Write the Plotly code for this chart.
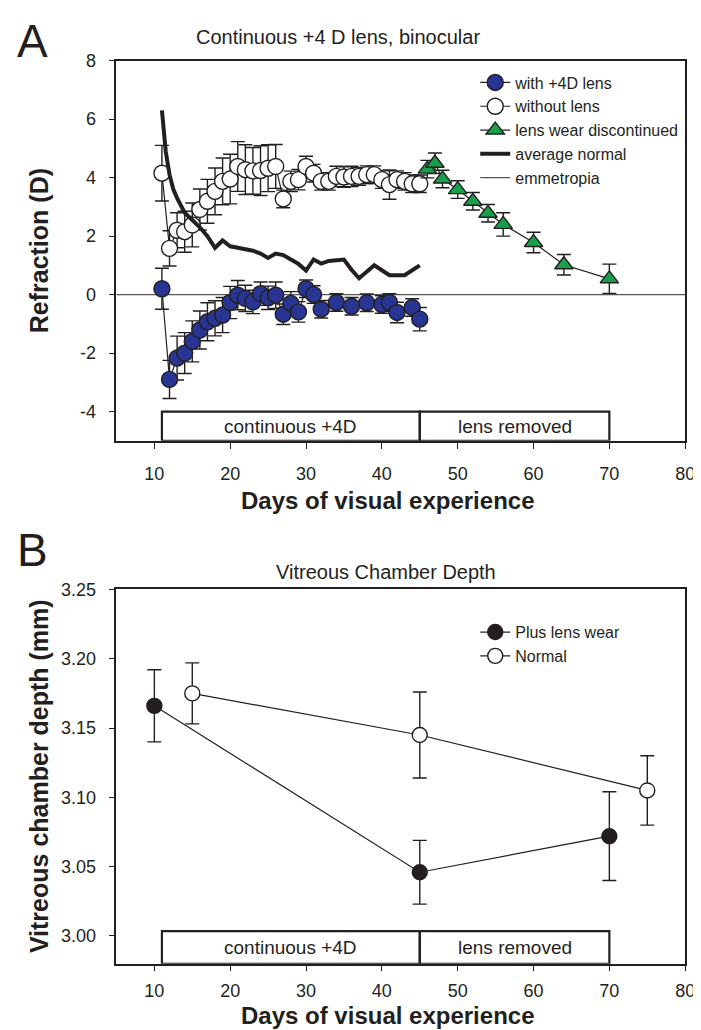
import plotly.graph_objects as go

# ---------------- Panel A data ----------------
lens_days = [11, 12, 13, 14, 15, 16, 17, 18, 19, 20, 21, 22, 23, 24, 25, 26, 27, 28, 29, 30,
             31, 32, 34, 36, 38, 40, 41, 42, 44, 45]
lens_ref = [0.20, -2.90, -2.17, -2.00, -1.60, -1.21, -0.93, -0.81, -0.70, -0.27, -0.02, -0.13,
            -0.25, 0.03, -0.11, -0.02, -0.67, -0.30, -0.59, 0.20, 0.00, -0.50, -0.27, -0.40,
            -0.28, -0.34, -0.27, -0.61, -0.44, -0.84]
lens_err = [0.70, 0.65, 0.75, 0.70, 0.70, 0.65, 0.65, 0.60, 0.60, 0.55, 0.50, 0.45, 0.40, 0.40,
            0.40, 0.45, 0.35, 0.40, 0.35, 0.30, 0.30, 0.30, 0.30, 0.30, 0.30, 0.30, 0.30, 0.35,
            0.30, 0.40]

nolens_days = [11, 12, 13, 14, 15, 16, 17, 18, 19, 20, 21, 22, 23, 24, 25, 26, 27, 28, 29, 30,
               31, 32, 33, 34, 35, 36, 37, 38, 39, 40, 41, 42, 43, 44, 45]
nolens_ref = [4.15, 1.58, 2.20, 2.15, 2.38, 2.91, 3.19, 3.53, 3.87, 3.95, 4.38, 4.27, 4.23, 4.24,
              4.32, 4.38, 3.27, 3.87, 3.93, 4.38, 4.15, 3.87, 3.87, 4.04, 4.02, 4.04, 4.04, 4.10,
              4.10, 3.93, 3.76, 3.93, 3.87, 3.79, 3.79]
nolens_err = [0.95, 0.60, 0.60, 0.70, 0.75, 0.70, 0.75, 0.80, 0.80, 0.85, 0.85, 0.85, 0.80, 0.85,
              0.80, 0.75, 0.30, 0.35, 0.35, 0.35, 0.30, 0.30, 0.30, 0.35, 0.35, 0.35, 0.30, 0.30,
              0.30, 0.30, 0.50, 0.30, 0.30, 0.30, 0.30]

disc_days = [46, 47, 48, 50, 52, 54, 56, 60, 64, 70]
disc_ref = [4.29, 4.49, 3.95, 3.59, 3.19, 2.78, 2.40, 1.78, 1.02, 0.54]
disc_err = [0.30, 0.35, 0.30, 0.30, 0.30, 0.30, 0.40, 0.35, 0.35, 0.50]

normal_days = [11, 11.5, 12, 12.5, 13, 14, 15, 16, 17, 18, 19, 20, 21, 22, 23, 24, 25, 26, 27,
               28, 29, 30, 31, 32, 33, 35, 36, 37, 39, 41, 43, 45]
normal_ref = [6.30, 4.90, 4.10, 3.60, 3.30, 2.80, 2.55, 2.30, 2.00, 1.60, 1.85, 1.65, 1.60, 1.55,
              1.50, 1.40, 1.25, 1.40, 1.35, 1.20, 1.05, 0.82, 1.20, 1.06, 1.15, 1.20, 0.85, 0.56,
              1.00, 0.66, 0.66, 1.00]

emm_days = [5, 80]
emm_ref = [0, 0]

# ---------------- Panel B data ----------------
plus_days = [10, 45, 70]
plus_vcd = [3.166, 3.046, 3.072]
plus_err = [0.026, 0.023, 0.032]

norm_days = [15, 45, 75]
norm_vcd = [3.175, 3.145, 3.105]
norm_err = [0.022, 0.031, 0.025]

x_ticks = [10, 20, 30, 40, 50, 60, 70, 80]
yA_ticks = [-4, -2, 0, 2, 4, 6, 8]
yA_ticktext = ["-4", "-2", "0", "2", "4", "6", "8"]
yB_ticks = [3.00, 3.05, 3.10, 3.15, 3.20, 3.25]
yB_ticktext = ["3.00", "3.05", "3.10", "3.15", "3.20", "3.25"]

phases = ["continuous +4D", "lens removed"]
phase_start = [11, 45]
phase_end = [45, 70]

# ---------------- figure ----------------
W, H = 701, 1030
INK = "#231f20"
BLUE = "#283593"
GREEN = "#16a04a"


def px_x(p):
    return p / W


def px_y(p):
    return 1 - p / H


plot_l, plot_r = 110, 687
A_top, A_bot = 43, 427
B_top, B_bot = 577, 955

fig = go.Figure()

err_style = dict(type="data", color=INK, thickness=1.4, width=7)
mk_line = dict(color=INK, width=1.4)

# Panel A traces (draw order)
fig.add_trace(go.Scatter(x=emm_days, y=emm_ref, mode="lines", name="emmetropia",
                         line=dict(color="#555555", width=1.2), legendrank=5,
                         xaxis="x", yaxis="y", legend="legend"))
fig.add_trace(go.Scatter(x=nolens_days, y=nolens_ref, mode="lines+markers", name="without lens",
                         line=dict(color=INK, width=1.2),
                         marker=dict(symbol="circle", size=16, color="white", line=mk_line),
                         error_y=dict(array=nolens_err, **err_style), legendrank=2,
                         xaxis="x", yaxis="y", legend="legend"))
fig.add_trace(go.Scatter(x=lens_days, y=lens_ref, mode="lines+markers", name="with +4D lens",
                         line=dict(color=INK, width=1.2),
                         marker=dict(symbol="circle", size=16, color=BLUE, line=mk_line),
                         error_y=dict(array=lens_err, **err_style), legendrank=1,
                         xaxis="x", yaxis="y", legend="legend"))
fig.add_trace(go.Scatter(x=disc_days, y=disc_ref, mode="lines+markers", name="lens wear discontinued",
                         line=dict(color=INK, width=1.2),
                         marker=dict(symbol="triangle-up", size=16, color=GREEN, line=mk_line),
                         error_y=dict(array=disc_err, **err_style), legendrank=3,
                         xaxis="x", yaxis="y", legend="legend"))
fig.add_trace(go.Scatter(x=normal_days, y=normal_ref, mode="lines", name="average normal",
                         line=dict(color=INK, width=4), legendrank=4,
                         xaxis="x", yaxis="y", legend="legend"))

# Panel B traces
fig.add_trace(go.Scatter(x=plus_days, y=plus_vcd, mode="lines+markers", name="Plus lens wear",
                         line=dict(color=INK, width=1.2),
                         marker=dict(symbol="circle", size=15, color=INK, line=mk_line),
                         error_y=dict(array=plus_err, **err_style),
                         xaxis="x2", yaxis="y2", legend="legend2"))
fig.add_trace(go.Scatter(x=norm_days, y=norm_vcd, mode="lines+markers", name="Normal",
                         line=dict(color=INK, width=1.2),
                         marker=dict(symbol="circle", size=15, color="white", line=mk_line),
                         error_y=dict(array=norm_err, **err_style),
                         xaxis="x2", yaxis="y2", legend="legend2"))

axis_common = dict(showline=True, mirror=True, linecolor=INK, linewidth=1.5,
                   ticks="outside", ticklen=6, tickwidth=1.2, tickcolor=INK,
                   showgrid=False, zeroline=False,
                   tickfont=dict(size=18, color=INK))

fig.update_layout(
    width=W, height=H,
    margin=dict(l=0, r=0, t=0, b=0),
    plot_bgcolor="white", paper_bgcolor="white",
    font=dict(family="Liberation Sans, Arial, sans-serif", color=INK),
    xaxis=dict(domain=[px_x(plot_l), px_x(plot_r)], range=[5, 80], tickvals=x_ticks,
               anchor="y", ticklabelstandoff=10, **axis_common),
    yaxis=dict(domain=[px_y(A_bot), px_y(A_top)], range=[-5, 8], tickvals=yA_ticks,
               ticktext=yA_ticktext, anchor="x", ticklabelstandoff=9, **axis_common),
    xaxis2=dict(domain=[px_x(plot_l), px_x(plot_r)], range=[5, 80], tickvals=x_ticks,
                anchor="y2", ticklabelstandoff=4, **axis_common),
    yaxis2=dict(domain=[px_y(B_bot), px_y(B_top)], range=[2.98, 3.25], tickvals=yB_ticks,
                ticktext=yB_ticktext, anchor="x2", ticklabelstandoff=9, **axis_common),
    legend=dict(x=px_x(474), y=px_y(48), xanchor="left", yanchor="top",
                bgcolor="rgba(0,0,0,0)", font=dict(size=16, color=INK),
                itemwidth=30, tracegroupgap=0),
    legend2=dict(x=px_x(474), y=px_y(603), xanchor="left", yanchor="top",
                 bgcolor="rgba(0,0,0,0)", font=dict(size=16, color=INK),
                 itemwidth=30),
    showlegend=True,
)

shapes = []
annotations = []
for xa, ya, y0, y1 in [("x", "y", -5, -4), ("x2", "y2", 2.98, 3.0035)]:
    for name, s, e in zip(phases, phase_start, phase_end):
        shapes.append(dict(type="rect", xref=xa, yref=ya, x0=s, x1=e, y0=y0, y1=y1,
                           line=dict(color=INK, width=2.2), fillcolor="rgba(0,0,0,0)"))
        annotations.append(dict(xref=xa, yref=ya, x=(s + e) / 2, y=(y0 + y1) / 2, text=name,
                                showarrow=False, font=dict(size=19, color=INK)))

texts = [
    ("A", 25, 23, 46, 0),
    ("B", 25, 537, 46, 0),
    ("Continuous +4 D lens, binocular", 335, 19, 20, 0),
    ("Vitreous Chamber Depth", 383, 559, 20, 0),
    ("<b>Days of visual experience</b>", 385, 487, 24, 0),
    ("<b>Days of visual experience</b>", 385, 1007, 24, 0),
    ("<b>Refraction (D)</b>", 31, 235, 25, -90),
    ("<b>Vitreous chamber depth (mm)</b>", 31, 766, 25, -90),
]
for t, x, y, size, ang in texts:
    annotations.append(dict(xref="paper", yref="paper", x=px_x(x), y=px_y(y), text=t,
                            showarrow=False, xanchor="center", yanchor="middle",
                            textangle=ang, font=dict(size=size, color=INK)))

fig.update_layout(shapes=shapes, annotations=annotations)

fig.write_html("out.html")
